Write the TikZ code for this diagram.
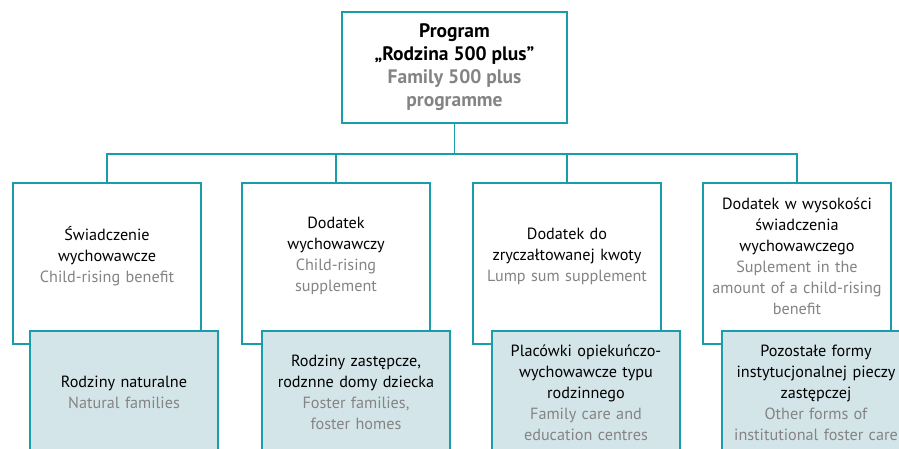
\documentclass[tikz,border=0pt]{standalone}
\usepackage{fontspec}
\setmainfont{PT Sans}
\usetikzlibrary{positioning}
\definecolor{linecol}{HTML}{1A9DAA}
\definecolor{boxfill}{HTML}{D3E5E9}
\definecolor{engray}{HTML}{848484}
\newcommand{\en}[1]{\textcolor{engray}{#1}}
\tikzset{
    conn/.style={draw=linecol, line width=1.7pt},
    topbox/.style={draw=linecol, line width=1.7pt, fill=white, minimum width=225pt, minimum height=111pt,
        align=center, font=\fontsize{19.5}{23}\selectfont\bfseries},
    upbox/.style={draw=linecol, line width=1.7pt, fill=white, minimum width=188pt, minimum height=161pt, inner sep=0pt},
    uptext/.style={align=center, text width=186pt, font=\fontsize{16.2}{21}\selectfont},
    lowbox/.style={draw=linecol, line width=1.7pt, fill=boxfill, minimum width=188pt, minimum height=124pt,
        align=center, text width=186pt, inner sep=0pt, font=\fontsize{16.2}{21}\selectfont, anchor=north west}
}
\begin{document}
\begin{tikzpicture}[x=1pt,y=1pt]
    \useasboundingbox (0,0) rectangle (899,448);
    \clip (0,0) rectangle (899,448);
    % top
    \node[topbox] (prog) at (454.5,380.5)
    {Program\\ „Rodzina 500 plus”\\ \en{Family 500 plus}\\ \en{programme}};
    % upper row
    \node[upbox] (b1) at (107,184.5) {};
    \node[upbox] (b2) at (336,184.5) {};
    \node[upbox] (b3) at (567,184.5) {};
    \node[upbox] (b4) at (797,184.5) {};
    \node[uptext] (t1) at ([yshift=7.5]b1.center) {Świadczenie\\ wychowawcze\\ \en{Child-rising benefit}};
    \node[uptext] (t2) at ([yshift=7.5]b2.center) {Dodatek\\ wychowawczy\\ \en{Child-rising}\\ \en{supplement}};
    \node[uptext] (t3) at ([yshift=7.5]b3.center) {Dodatek do\\ zryczałtowanej kwoty\\ \en{Lump sum supplement}};
    \node[uptext] (t4) at ([yshift=7.5]b4.center) {Dodatek w wysokości\\ świadczenia\\ wychowawczego\\ \en{Suplement in the}\\ \en{amount of a child-rising}\\ \en{benefit}};
    % lower row
    \node[lowbox] (n1) at ([shift={(17,15)}]b1.south west) {Rodziny naturalne\\ \en{Natural families}};
    \node[lowbox] (n2) at ([shift={(20,15)}]b2.south west) {Rodziny zastępcze,\\ rodznne domy dziecka\\ \en{Foster families,}\\ \en{foster homes}};
    \node[lowbox] (n3) at ([shift={(19,15)}]b3.south west) {Placówki opiekuńczo-\\ wychowawcze typu\\ rodzinnego\\ \en{Family care and}\\ \en{education centres}};
    \node[lowbox] (n4) at ([shift={(19,15)}]b4.south west) {Pozostałe formy\\ instytucjonalnej pieczy\\ zastępczej\\ \en{Other forms of}\\ \en{institutional foster care}};
    % connectors
    \draw[conn] (prog.south) -- ++(0,-30) coordinate (bus);
    \draw[conn] (b1.north) |- (bus) -| (b4.north);
    \draw[conn] (b2.north) -- (b2.north |- bus);
    \draw[conn] (b3.north) -- (b3.north |- bus);
\end{tikzpicture}
\end{document}
